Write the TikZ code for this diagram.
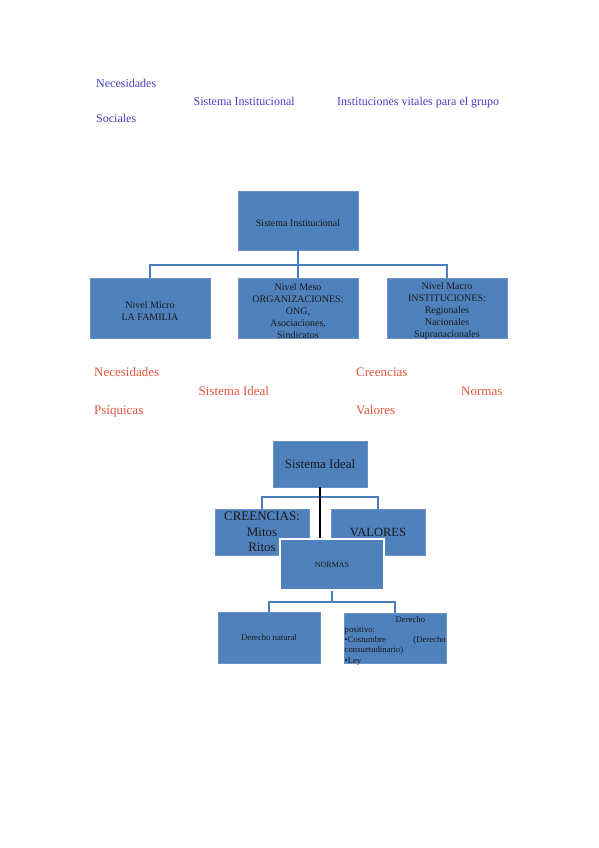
\documentclass[tikz,border=0pt]{standalone}
\usepackage{fontspec}
\setmainfont{Liberation Serif}
\definecolor{boxblue}{HTML}{4F81BD}
\definecolor{boxedge}{HTML}{6A92C6}
\definecolor{connblue}{HTML}{4A7EBB}
\definecolor{txtblue}{HTML}{4B3EC4}
\definecolor{txtred}{HTML}{E4553C}
\definecolor{boxtext}{HTML}{1A1A1A}
\begin{document}
\begin{tikzpicture}[x=1pt,y=-1pt,
  box/.style={draw=boxedge, fill=boxblue, line width=0.8pt, inner sep=0pt, text=boxtext, align=center},
  conn/.style={draw=connblue, line width=2pt},
  bluetxt/.style={anchor=base west, inner sep=0pt, text=txtblue, font=\fontsize{12}{14}\selectfont},
  redtxt/.style={anchor=base west, inner sep=0pt, text=txtred, font=\fontsize{13}{15}\selectfont},
  small/.style={inner sep=0pt, text=boxtext, align=center, font=\fontsize{10}{11.8}\selectfont},
  tiny/.style={inner sep=0pt, text=boxtext, font=\fontsize{8.7}{10}\selectfont}]
\path[use as bounding box, fill=white] (0,0) rectangle (599,848);

% blue header text
\node[bluetxt] (b1) at (96,88) {Necesidades};
\node[bluetxt] (b2) at (193.5,105.5) {Sistema Institucional};
\node[bluetxt] (b3) at (337,105.5) {Instituciones vitales para el grupo};
\node[bluetxt] (b4) at (96,123) {Sociales};

% chart 1
\node[box, minimum width=120pt, minimum height=59pt] (si) at (298,220.5) {};
\node[box, minimum width=120pt, minimum height=60pt] (micro) at (150,308.5) {};
\node[box, minimum width=120pt, minimum height=60pt] (meso) at (298,308.5) {};
\node[box, minimum width=120pt, minimum height=60pt] (macro) at (447,308.5) {};
\node[small] (sit) at ([yshift=-2.8pt]si.center) {Sistema Institucional};
\node[small] (microt) at ([yshift=-2.5pt]micro.center) {Nivel Micro\\LA FAMILIA};
\node[small] (mesot) at ([yshift=-2.5pt]meso.center) {Nivel Meso\\ORGANIZACIONES:\\ONG,\\Asociaciones,\\Sindicatos};
\node[small] (macrot) at ([yshift=-2.5pt]macro.center) {Nivel Macro\\INSTITUCIONES:\\Regionales\\Nacionales\\Supranacionales};
\coordinate (j1) at (298,265);
\draw[conn] (si.south) -- (meso.north);
\draw[conn] (micro.north) |- (j1) -| (macro.north);

% red text
\node[redtxt] (r1) at (94,376.5) {Necesidades};
\node[redtxt] (r2) at (198.5,395.5) {Sistema Ideal};
\node[redtxt] (r3) at (94,414.5) {Psíquicas};
\node[redtxt] (r4) at (356,376.5) {Creencias};
\node[redtxt] (r5) at (461,395.5) {Normas};
\node[redtxt] (r6) at (356,414.5) {Valores};

% chart 2
\node[box, font=\fontsize{13}{15}\selectfont, minimum width=94pt, minimum height=46pt] (ideal) at (320,464) {Sistema Ideal};
\node[box, font=\fontsize{13}{15.5}\selectfont, minimum width=94pt, minimum height=46pt] (creencias) at (262,532) {CREENCIAS:\\Mitos\\Ritos};
\node[box, font=\fontsize{12.5}{15}\selectfont, minimum width=94pt, minimum height=46pt] (valores) at (378,532) {VALORES};
\coordinate (j2) at (320,497);
\coordinate (bl) at (320,541);
\draw[conn] (ideal.south) -- (j2);
\draw[conn] (creencias.north) |- (j2) -| (valores.north);
\draw[line width=2.5pt, black] (ideal.south) -- (bl);
\node[box, draw=white, line width=1.5pt, font=\fontsize{8}{10}\selectfont, minimum width=104pt, minimum height=51pt] (normas) at (332,564.5) {NORMAS};

% chart 3
\node[box, tiny, minimum width=102pt, minimum height=51pt] (natural) at (269,637.5) {Derecho natural};
\node[box, minimum width=102pt, minimum height=50pt] (positivo) at (395,638) {};
\coordinate (j3) at (332,601.5);
\draw[conn] (normas.south) -- (j3);
\draw[conn] (natural.north) |- (j3) -| (positivo.north);
\node[tiny, anchor=base west] (p1) at (395.5,622) {Derecho};
\node[tiny, anchor=base west] (p2) at (344.5,632) {positivo:};
\node[tiny, anchor=base west] (p3) at (344.5,642) {•Costumbre};
\node[tiny, anchor=base east] (p4) at (446,642) {(Derecho};
\node[tiny, anchor=base west] (p5) at (344.5,652.5) {consuetudinario)};
\node[tiny, anchor=base west] (p6) at (344.5,663) {•Ley};
\end{tikzpicture}
\end{document}
